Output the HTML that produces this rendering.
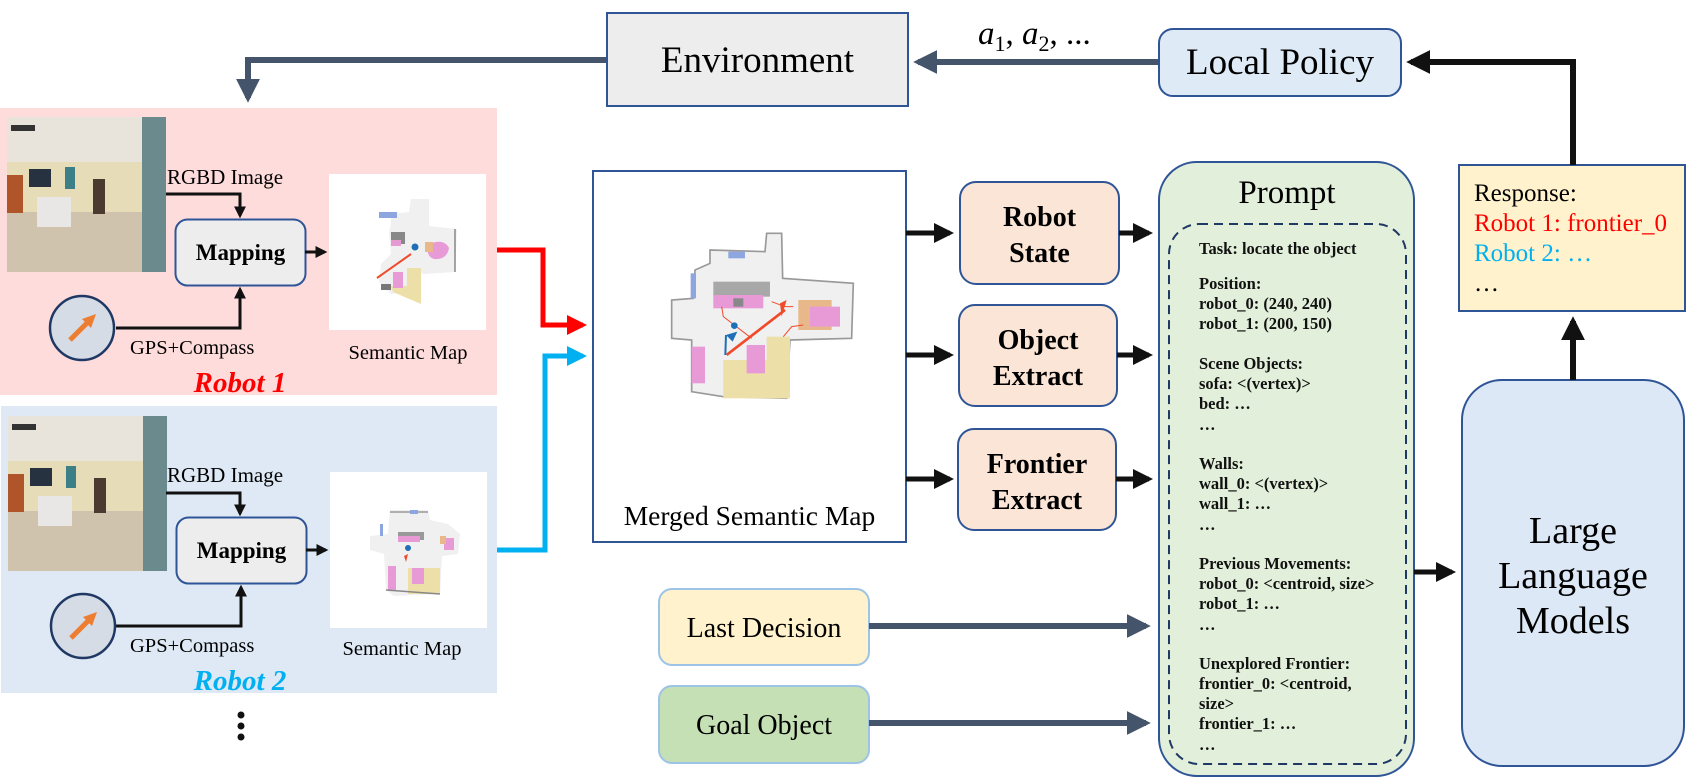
<!DOCTYPE html>
<html><head><meta charset="utf-8">
<style>
html,body{margin:0;padding:0;background:#fff;}
svg{display:block;}
text{font-family:"Liberation Serif",serif;}
</style></head>
<body>
<svg width="1686" height="780" viewBox="0 0 1686 780" xmlns="http://www.w3.org/2000/svg">
<defs>
  <marker id="ab" markerWidth="4" markerHeight="4" refX="3.2" refY="2" orient="auto" markerUnits="strokeWidth"><path d="M0,0 L4,2 L0,4 z" fill="#111"/></marker>
  <marker id="ag" markerWidth="4" markerHeight="4" refX="3.2" refY="2" orient="auto" markerUnits="strokeWidth"><path d="M0,0 L4,2 L0,4 z" fill="#44546a"/></marker>
  <marker id="ar" markerWidth="4" markerHeight="4" refX="3.2" refY="2" orient="auto" markerUnits="strokeWidth"><path d="M0,0 L4,2 L0,4 z" fill="#ff0000"/></marker>
  <marker id="abl" markerWidth="4" markerHeight="4" refX="3.2" refY="2" orient="auto" markerUnits="strokeWidth"><path d="M0,0 L4,2 L0,4 z" fill="#00b0f0"/></marker>
  <g id="photo">
    <rect x="0" y="0" width="159" height="155" fill="#d9d2c2"/>
    <rect x="0" y="0" width="159" height="45" fill="#e8e4dc"/>
    <rect x="0" y="45" width="135" height="50" fill="#e6dcb8"/>
    <rect x="0" y="95" width="159" height="60" fill="#cfc3ad"/>
    <rect x="22" y="52" width="22" height="18" fill="#263240"/>
    <rect x="58" y="50" width="10" height="22" fill="#3d7f86"/>
    <rect x="86" y="62" width="12" height="35" fill="#4a3a30"/>
    <rect x="30" y="80" width="34" height="30" fill="#e9e7e6"/>
    <rect x="0" y="58" width="16" height="38" fill="#b0542a"/>
    <rect x="135" y="0" width="24" height="155" fill="#6b8a8e"/>
    <rect x="4" y="8" width="24" height="6" fill="#333"/>
  </g>
  <g id="compass">
    <circle cx="0" cy="0" r="32" fill="#d6dce5" stroke="#1f3864" stroke-width="2.5"/>
    <line x1="-12" y1="12" x2="6" y2="-6" stroke="#ed7d31" stroke-width="5"/>
    <polygon points="14,-14 0,-9 9,0" fill="#ed7d31"/>
  </g>
  <g id="smap1">
    <rect x="0" y="0" width="157" height="156" fill="#fff"/>
    <path d="M62 40 L80 38 L82 25 L100 25 L100 52 L128 55 L126 98 L95 100 L78 95 L78 118 L62 120 L50 108 L52 90 L62 80 L60 58 L62 50 Z" fill="#f0f0f0"/>
    <rect x="50" y="38" width="18" height="6" fill="#8ea6e0"/>
    <rect x="62" y="58" width="14" height="12" fill="#888"/>
    <rect x="62" y="66" width="10" height="6" fill="#e59ad2"/>
    <path d="M100 70 Q115 64 120 74 Q118 86 105 85 Q96 82 100 70Z" fill="#e79ad6"/>
    <rect x="96" y="68" width="8" height="10" fill="#e8b88a"/>
    <path d="M78 94 L92 94 L92 130 L64 118 L62 112 L78 112 Z" fill="#ecdfa8"/>
    <rect x="64" y="98" width="10" height="16" fill="#e79ad6"/>
    <rect x="52" y="110" width="10" height="6" fill="#777"/>
    <line x1="48" y1="104" x2="82" y2="80" stroke="#f04a2a" stroke-width="2"/>
    <circle cx="86" cy="73" r="3.5" fill="#1f6fb8"/>
    <path d="M126 55 L126 98" stroke="#888" stroke-width="1.5"/>
  </g>
  <g id="smap2">
    <rect x="0" y="0" width="157" height="156" fill="#fff"/>
    <path d="M60 38 L98 38 L100 48 L118 52 L130 62 L128 82 L112 84 L110 122 L64 124 L56 118 L54 82 L40 78 L40 64 L58 62 Z" fill="#f0f0f0"/>
    <path d="M60 40 L98 40" stroke="#999" stroke-width="1.5"/>
    <rect x="80" y="38" width="8" height="4" fill="#8ea6e0"/>
    <rect x="50" y="52" width="3" height="12" fill="#8ea6e0"/>
    <rect x="68" y="60" width="26" height="8" fill="#999"/>
    <rect x="68" y="64" width="22" height="6" fill="#e79ad6"/>
    <rect x="114" y="66" width="10" height="12" fill="#e79ad6"/>
    <rect x="110" y="64" width="6" height="8" fill="#e8b88a"/>
    <rect x="78" y="96" width="32" height="26" fill="#ecdfa8"/>
    <rect x="82" y="96" width="12" height="16" fill="#e79ad6"/>
    <rect x="58" y="94" width="8" height="24" fill="#e79ad6"/>
    <path d="M56 118 L110 122" stroke="#888" stroke-width="1.5"/>
    <circle cx="78" cy="76" r="3" fill="#1f6fb8"/>
    <path d="M74 84 L78 82 L76 90 Z" fill="#f04a2a"/>
  </g>
</defs>

<!-- Robot 1 panel -->
<rect x="0" y="108" width="497" height="287" fill="#ffdcdc"/>
<use href="#photo" x="7" y="117"/>
<text x="167" y="184" font-size="21">RGBD Image</text>
<polyline points="166,194 240,194 240,216" fill="none" stroke="#111" stroke-width="3" marker-end="url(#ab)"/>
<rect x="175.5" y="219.5" width="130" height="66" rx="12" fill="#ededed" stroke="#2f5597" stroke-width="2"/>
<text x="240.5" y="260" font-size="23" font-weight="bold" text-anchor="middle">Mapping</text>
<polyline points="116,328 240,328 240,289" fill="none" stroke="#111" stroke-width="3" marker-end="url(#ab)"/>
<use href="#compass" x="82" y="328"/>
<text x="130" y="354" font-size="20.5">GPS+Compass</text>
<line x1="305" y1="252" x2="325" y2="252" stroke="#111" stroke-width="3" marker-end="url(#ab)"/>
<use href="#smap1" x="329" y="174"/>
<text x="408" y="359" font-size="20.5" text-anchor="middle">Semantic Map</text>
<text x="240" y="392" font-size="29" font-weight="bold" font-style="italic" fill="#ff0000" text-anchor="middle">Robot 1</text>

<!-- Robot 2 panel -->
<rect x="1" y="406" width="496" height="287" fill="#dee9f5"/>
<use href="#photo" x="8" y="416"/>
<text x="167" y="482" font-size="21">RGBD Image</text>
<polyline points="166,493 240,493 240,514" fill="none" stroke="#111" stroke-width="3" marker-end="url(#ab)"/>
<rect x="176.5" y="517.5" width="130" height="66" rx="12" fill="#ededed" stroke="#2f5597" stroke-width="2"/>
<text x="241.5" y="558" font-size="23" font-weight="bold" text-anchor="middle">Mapping</text>
<polyline points="116,626 241,626 241,587" fill="none" stroke="#111" stroke-width="3" marker-end="url(#ab)"/>
<use href="#compass" x="83" y="626"/>
<text x="130" y="652" font-size="20.5">GPS+Compass</text>
<line x1="306" y1="550" x2="326" y2="550" stroke="#111" stroke-width="3" marker-end="url(#ab)"/>
<use href="#smap2" x="330" y="472"/>
<text x="402" y="655" font-size="20.5" text-anchor="middle">Semantic Map</text>
<text x="240" y="690" font-size="29" font-weight="bold" font-style="italic" fill="#00b0f0" text-anchor="middle">Robot 2</text>

<circle cx="241" cy="715" r="3.5" fill="#111"/>
<circle cx="241" cy="726" r="3.5" fill="#111"/>
<circle cx="241" cy="737" r="3.5" fill="#111"/>

<!-- Environment / Local Policy -->
<polyline points="607,60 248,60 248,98" fill="none" stroke="#44546a" stroke-width="6" marker-end="url(#ag)"/>
<rect x="607" y="13" width="301" height="93" fill="#ededed" stroke="#2f5597" stroke-width="2"/>
<text x="757.5" y="72" font-size="37" text-anchor="middle">Environment</text>
<line x1="1159" y1="62" x2="918" y2="62" stroke="#44546a" stroke-width="6" marker-end="url(#ag)"/>
<text x="978" y="44" font-size="33" font-style="italic">a<tspan font-size="22" font-style="normal" dy="7">1</tspan><tspan dy="-7" font-style="normal">, </tspan>a<tspan font-size="22" font-style="normal" dy="7">2</tspan><tspan dy="-7" font-style="normal">, ...</tspan></text>
<rect x="1159" y="29" width="242" height="67" rx="14" fill="#deebf7" stroke="#2f5597" stroke-width="2"/>
<text x="1280" y="74" font-size="37" text-anchor="middle">Local Policy</text>

<!-- red/blue connectors -->
<polyline points="497,250 543,250 543,325 583,325" fill="none" stroke="#ff0000" stroke-width="5" marker-end="url(#ar)"/>
<polyline points="497,550 545,550 545,356 583,356" fill="none" stroke="#00b0f0" stroke-width="5" marker-end="url(#abl)"/>

<!-- Merged map -->
<rect x="593" y="171" width="313" height="371" fill="#fff" stroke="#2f5597" stroke-width="2"/>
<g transform="translate(600,200) scale(0.3333)">
  <path d="M330 150 L495 155 L500 100 L545 100 L548 235 L760 250 L755 415 L570 420 L560 595 L370 590 L275 575 L275 420 L215 415 L215 300 L280 295 L285 210 L330 190 Z" fill="#f0f0f0" stroke="#999" stroke-width="5"/>
  <rect x="385" y="155" width="50" height="20" fill="#8ea6e0"/>
  <rect x="272" y="220" width="16" height="75" fill="#8ea6e0"/>
  <rect x="340" y="245" width="170" height="45" fill="#a8a8a8"/>
  <rect x="340" y="285" width="150" height="40" fill="#e79ad6"/>
  <rect x="400" y="295" width="30" height="25" fill="#888"/>
  <rect x="595" y="300" width="100" height="90" fill="#e8b88a"/>
  <rect x="630" y="320" width="90" height="60" fill="#e79ad6"/>
  <rect x="370" y="480" width="190" height="115" fill="#ecdfa8"/>
  <rect x="500" y="410" width="70" height="185" fill="#ecdfa8"/>
  <rect x="440" y="435" width="55" height="85" fill="#e79ad6"/>
  <rect x="275" y="440" width="40" height="110" fill="#e79ad6"/>
  <line x1="380" y1="465" x2="555" y2="330" stroke="#f04a2a" stroke-width="8"/>
  <polyline points="365,320 370,350 455,415" fill="none" stroke="#f04a2a" stroke-width="3"/>
  <polyline points="550,410 575,380 610,375" fill="none" stroke="#f04a2a" stroke-width="3"/>
  <polyline points="515,305 555,320 580,320" fill="none" stroke="#f04a2a" stroke-width="3"/>
  <path d="M540 310 L560 300 L545 350 Z" fill="#f04a2a"/>
  <circle cx="403" cy="377" r="10" fill="#1f6fb8"/>
  <path d="M378 405 L412 395 L398 425 Z" fill="#1f6fb8"/>
  <line x1="378" y1="405" x2="376" y2="465" stroke="#1f6fb8" stroke-width="6"/>
</g>
<text x="749.5" y="525" font-size="27.5" text-anchor="middle">Merged Semantic Map</text>

<!-- extract boxes -->
<line x1="906" y1="233" x2="950" y2="233" stroke="#111" stroke-width="5" marker-end="url(#ab)"/>
<line x1="906" y1="355" x2="950" y2="355" stroke="#111" stroke-width="5" marker-end="url(#ab)"/>
<line x1="906" y1="479" x2="950" y2="479" stroke="#111" stroke-width="5" marker-end="url(#ab)"/>
<rect x="960" y="182" width="159" height="102" rx="16" fill="#fbe5d6" stroke="#2f5597" stroke-width="2"/>
<text x="1039.5" y="226" font-size="28" font-weight="bold" text-anchor="middle">Robot</text>
<text x="1039.5" y="262" font-size="28" font-weight="bold" text-anchor="middle">State</text>
<rect x="959" y="305" width="158" height="101" rx="16" fill="#fbe5d6" stroke="#2f5597" stroke-width="2"/>
<text x="1038" y="349" font-size="28" font-weight="bold" text-anchor="middle">Object</text>
<text x="1038" y="385" font-size="28" font-weight="bold" text-anchor="middle">Extract</text>
<rect x="958" y="429" width="158" height="101" rx="16" fill="#fbe5d6" stroke="#2f5597" stroke-width="2"/>
<text x="1037" y="473" font-size="28" font-weight="bold" text-anchor="middle">Frontier</text>
<text x="1037" y="509" font-size="28" font-weight="bold" text-anchor="middle">Extract</text>
<line x1="1119" y1="233" x2="1149" y2="233" stroke="#111" stroke-width="5" marker-end="url(#ab)"/>
<line x1="1117" y1="355" x2="1149" y2="355" stroke="#111" stroke-width="5" marker-end="url(#ab)"/>
<line x1="1116" y1="479" x2="1149" y2="479" stroke="#111" stroke-width="5" marker-end="url(#ab)"/>

<!-- Last decision / Goal -->
<rect x="659" y="589" width="210" height="76" rx="13" fill="#fff2cc" stroke="#9dc3e6" stroke-width="2"/>
<text x="764" y="637" font-size="28" text-anchor="middle">Last Decision</text>
<rect x="659" y="686" width="210" height="77" rx="13" fill="#c5e0b4" stroke="#9dc3e6" stroke-width="2"/>
<text x="764" y="734" font-size="28" text-anchor="middle">Goal Object</text>
<line x1="869" y1="626" x2="1146" y2="626" stroke="#44546a" stroke-width="6" marker-end="url(#ag)"/>
<line x1="869" y1="723" x2="1146" y2="723" stroke="#44546a" stroke-width="6" marker-end="url(#ag)"/>

<!-- Prompt -->
<rect x="1159" y="162" width="255" height="614" rx="38" fill="#e2efda" stroke="#2f5597" stroke-width="2"/>
<text x="1287" y="203" font-size="33" text-anchor="middle">Prompt</text>
<rect x="1169" y="224" width="237" height="540" rx="30" fill="none" stroke="#1f3864" stroke-width="2" stroke-dasharray="9,6"/>
<g font-size="16.5" font-weight="bold" fill="#111">
<text x="1199" y="254">Task: locate the object</text>
<text x="1199" y="289">Position:</text>
<text x="1199" y="309">robot_0: (240, 240)</text>
<text x="1199" y="329">robot_1: (200, 150)</text>
<text x="1199" y="369">Scene Objects:</text>
<text x="1199" y="389">sofa: &lt;(vertex)&gt;</text>
<text x="1199" y="409">bed: …</text>
<text x="1199" y="430">…</text>
<text x="1199" y="469">Walls:</text>
<text x="1199" y="489">wall_0: &lt;(vertex)&gt;</text>
<text x="1199" y="509">wall_1: …</text>
<text x="1199" y="530">…</text>
<text x="1199" y="569">Previous Movements:</text>
<text x="1199" y="589">robot_0: &lt;centroid, size&gt;</text>
<text x="1199" y="609">robot_1: …</text>
<text x="1199" y="630">…</text>
<text x="1199" y="669">Unexplored Frontier:</text>
<text x="1199" y="689">frontier_0: &lt;centroid,</text>
<text x="1199" y="709">size&gt;</text>
<text x="1199" y="729">frontier_1: …</text>
<text x="1199" y="750">…</text>
</g>
<line x1="1414" y1="572" x2="1452" y2="572" stroke="#111" stroke-width="5" marker-end="url(#ab)"/>

<!-- LLM -->
<rect x="1462" y="380" width="222" height="386" rx="40" fill="#dce8f5" stroke="#2f5597" stroke-width="2"/>
<text x="1573" y="543" font-size="38" text-anchor="middle">Large</text>
<text x="1573" y="588" font-size="38" text-anchor="middle">Language</text>
<text x="1573" y="633" font-size="38" text-anchor="middle">Models</text>
<line x1="1573" y1="380" x2="1573" y2="321" stroke="#111" stroke-width="6" marker-end="url(#ab)"/>

<!-- Response -->
<rect x="1459" y="165" width="226" height="146" fill="#fff2cc" stroke="#2f5597" stroke-width="2"/>
<text x="1474" y="201" font-size="25">Response:</text>
<text x="1474" y="231" font-size="25" fill="#ff0000">Robot 1: frontier_0</text>
<text x="1474" y="261" font-size="25" fill="#00b0f0">Robot 2: …</text>
<text x="1474" y="291" font-size="25">…</text>
<polyline points="1573,165 1573,62 1411,62" fill="none" stroke="#111" stroke-width="6" marker-end="url(#ab)"/>
</svg>
</body></html>
